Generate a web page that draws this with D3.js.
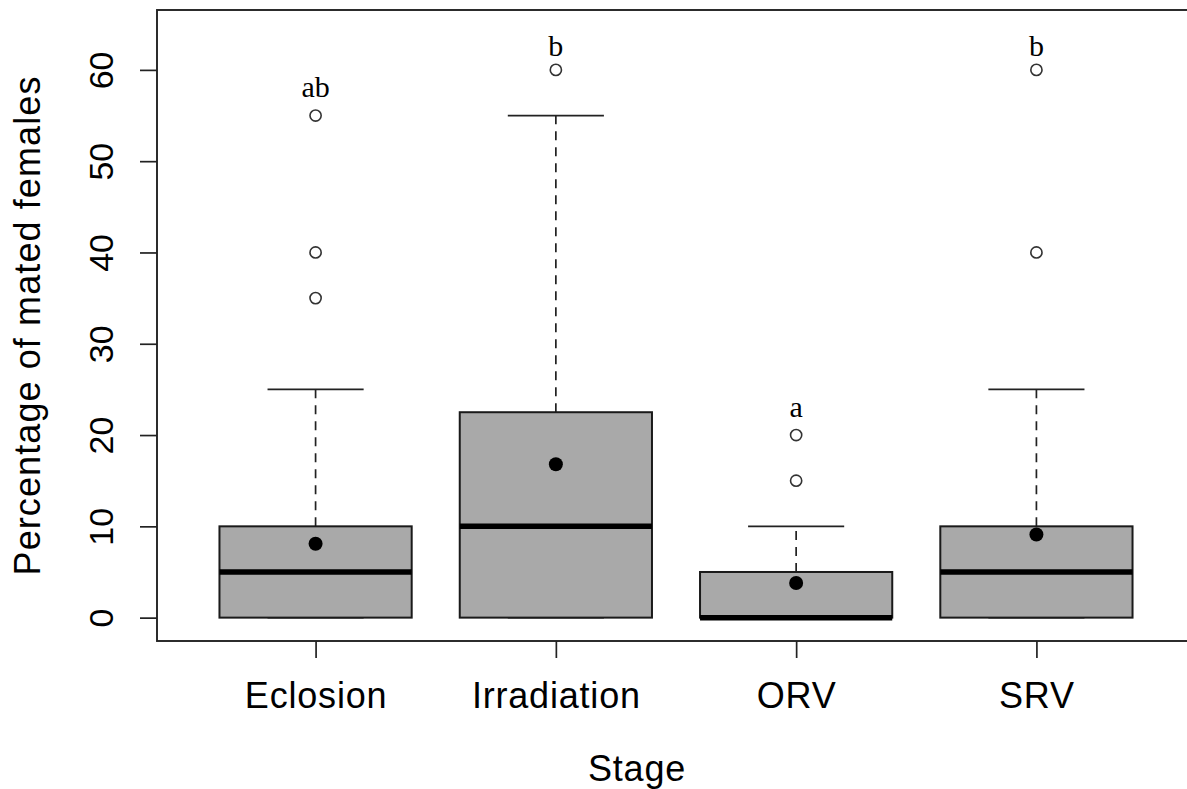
<!DOCTYPE html>
<html>
<head>
<meta charset="utf-8">
<script src="https://cdn.jsdelivr.net/npm/d3@7"></script>
<style>
  html, body { margin: 0; padding: 0; background: #fff; overflow: hidden; }
  svg { display: block; }
</style>
</head>
<body>
<svg id="chart" width="1187" height="789"></svg>
<script>
// Mating percentages by release stage (boxplot summary statistics)
const categories = ["Eclosion", "Irradiation", "ORV", "SRV"];
const whiskerLow = [0, 0, 0, 0];
const q1 = [0, 0, 0, 0];
const medians = [5, 10, 0, 5];
const q3 = [10, 22.5, 5, 10];
const whiskerHigh = [25, 55, 10, 25];
const means = [8.1, 16.8, 3.8, 9.1];
const outliers = [[35, 40, 55], [60], [15, 20], [40, 60]];
const letters = ["ab", "b", "a", "b"];
const letterY = [57, 61.5, 22, 61.5];
const yTicks = [0, 10, 20, 30, 40, 50, 60];

const svg = d3.select("#chart");

// plot region
const plotLeft = 157, plotRight = 1195, plotTop = 10, plotBottom = 641;

const x = d3.scaleLinear().domain([0.34, 4.66]).range([plotLeft, plotRight]);
const y = d3.scaleLinear().domain([-2.56, 66.56]).range([plotBottom, plotTop]);

const boxHalf = 0.4, stapleHalf = 0.2;
const sans = "'Liberation Sans', Arial, sans-serif";
const serif = "'Liberation Serif', 'Times New Roman', serif";

const idx = d3.range(categories.length);
const g = svg.append("g");

// whiskers (dashed) and staples
g.selectAll("line.whisker-up").data(idx).join("line")
  .attr("x1", i => x(i + 1)).attr("x2", i => x(i + 1))
  .attr("y1", i => y(q3[i])).attr("y2", i => y(whiskerHigh[i]))
  .attr("stroke", "#222").attr("stroke-width", 1.7).attr("stroke-dasharray", "9,7");

g.selectAll("line.staple-up").data(idx).join("line")
  .attr("x1", i => x(i + 1 - stapleHalf)).attr("x2", i => x(i + 1 + stapleHalf))
  .attr("y1", i => y(whiskerHigh[i])).attr("y2", i => y(whiskerHigh[i]))
  .attr("stroke", "#222").attr("stroke-width", 1.7);

g.selectAll("line.staple-low").data(idx).join("line")
  .attr("x1", i => x(i + 1 - stapleHalf)).attr("x2", i => x(i + 1 + stapleHalf))
  .attr("y1", i => y(whiskerLow[i])).attr("y2", i => y(whiskerLow[i]))
  .attr("stroke", "#222").attr("stroke-width", 1.7);

// boxes
g.selectAll("rect.box").data(idx).join("rect")
  .attr("x", i => x(i + 1 - boxHalf))
  .attr("width", i => x(i + 1 + boxHalf) - x(i + 1 - boxHalf))
  .attr("y", i => y(q3[i]))
  .attr("height", i => y(q1[i]) - y(q3[i]))
  .attr("fill", "#a9a9a9").attr("stroke", "#1a1a1a").attr("stroke-width", 2);

// medians
g.selectAll("line.median").data(idx).join("line")
  .attr("x1", i => x(i + 1 - boxHalf)).attr("x2", i => x(i + 1 + boxHalf))
  .attr("y1", i => y(medians[i])).attr("y2", i => y(medians[i]))
  .attr("stroke", "#000").attr("stroke-width", 5.5);

// outliers
const outPts = idx.flatMap(i => outliers[i].map(v => ({ i, v })));
g.selectAll("circle.out").data(outPts).join("circle")
  .attr("cx", d => x(d.i + 1)).attr("cy", d => y(d.v)).attr("r", 5.6)
  .attr("fill", "#fff").attr("stroke", "#333").attr("stroke-width", 1.6);

// means
g.selectAll("circle.mean").data(idx).join("circle")
  .attr("cx", i => x(i + 1)).attr("cy", i => y(means[i])).attr("r", 7)
  .attr("fill", "#000");

// group letters
g.selectAll("text.letter").data(idx).join("text")
  .attr("x", i => x(i + 1)).attr("y", i => y(letterY[i]))
  .attr("text-anchor", "middle")
  .attr("font-family", serif).attr("font-size", 30).attr("fill", "#000")
  .text(i => letters[i]);

// y axis
const yAxis = svg.append("g")
  .attr("transform", `translate(${plotLeft},0)`)
  .call(d3.axisLeft(y).tickValues(yTicks).tickSize(17).tickPadding(0));
yAxis.select(".domain").remove();
yAxis.selectAll(".tick line").attr("stroke", "#222").attr("stroke-width", 1.7);
yAxis.selectAll(".tick text")
  .attr("x", 0).attr("dy", 0).attr("y", 0)
  .attr("transform", "translate(-44,0) rotate(-90)")
  .attr("text-anchor", "middle")
  .attr("font-family", sans).attr("font-size", 34).attr("fill", "#000");

// x axis
const xAxis = svg.append("g")
  .attr("transform", `translate(0,${plotBottom})`)
  .call(d3.axisBottom(x).tickValues([1, 2, 3, 4]).tickFormat(d => categories[d - 1]).tickSize(17));
xAxis.select(".domain").remove();
xAxis.selectAll(".tick line").attr("stroke", "#222").attr("stroke-width", 1.7);
xAxis.selectAll(".tick text")
  .attr("y", 67).attr("dy", 0)
  .attr("font-family", sans).attr("font-size", 36).attr("letter-spacing", 0.8).attr("fill", "#000");

// frame
svg.append("rect")
  .attr("x", plotLeft).attr("y", plotTop)
  .attr("width", plotRight - plotLeft).attr("height", plotBottom - plotTop)
  .attr("fill", "none").attr("stroke", "#222").attr("stroke-width", 1.9);

// axis titles
svg.append("text")
  .attr("x", (plotLeft + plotRight) / 2 - 39).attr("y", 781)
  .attr("text-anchor", "middle")
  .attr("font-family", sans).attr("font-size", 36).attr("letter-spacing", 0.8).attr("fill", "#000")
  .text("Stage");

svg.append("text")
  .attr("transform", `translate(40,${(plotTop + plotBottom) / 2}) rotate(-90)`)
  .attr("text-anchor", "middle")
  .attr("font-family", sans).attr("font-size", 36).attr("letter-spacing", 1.1).attr("fill", "#000")
  .text("Percentage of mated females");
</script>
</body>
</html>
